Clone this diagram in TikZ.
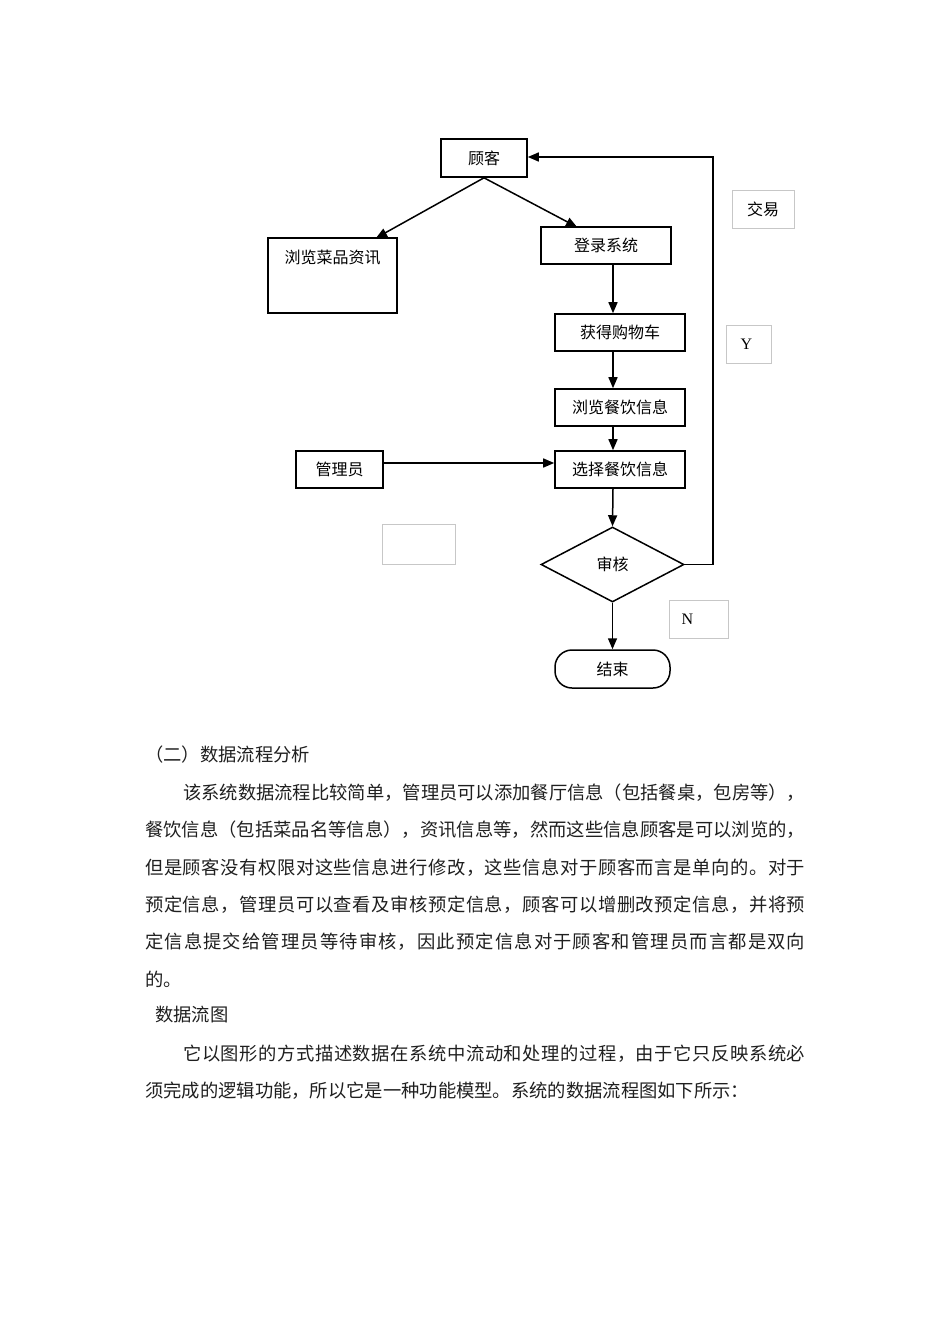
\documentclass[tikz,border=0pt]{standalone}
\usepackage{fontspec}
\setmainfont{Noto Sans CJK SC}
\newfontfamily\latinfont{Liberation Serif}
\usetikzlibrary{shapes.geometric,arrows.meta,calc}
\def\spreadtext#1{\spreadfirst#1\relax}
\def\spreadfirst#1{#1\spreadrest}
\def\spreadrest#1{\ifx#1\relax\else\hskip 0pt plus 1pt minus 1pt #1\expandafter\spreadrest\fi}
\tikzset{
  box/.style={draw=black, line width=1.6pt, rectangle, inner sep=0pt, font=\fontsize{16}{18}\selectfont},
  lbl/.style={inner sep=0pt, font=\fontsize{16}{18}\selectfont},
  ghost/.style={draw=black!22, line width=0.7pt, rectangle, inner sep=0pt, font=\fontsize{16}{18}\selectfont},
  arr/.style={line width=1.5pt, -{Triangle[length=11pt,width=9pt]}},
  para/.style={anchor=west, inner sep=0pt, font=\fontsize{18.3}{20}\selectfont, text=black!88}
}
\begin{document}
\begin{tikzpicture}[x=1pt,y=-1pt]
\useasboundingbox (0,0) rectangle (950,1344);
% main boxes
\node[box, minimum width=86pt, minimum height=38pt] (gk) at (484,158) {顾客};
\node[box, minimum width=129pt, minimum height=75pt] (llcp) at (332.5,275.5) {};
\node[lbl] (llcpt) at (332.5,258) {浏览菜品资讯};
\node[box, minimum width=130pt, minimum height=37pt] (dl) at (606,245.5) {登录系统};
\node[box, minimum width=130pt, minimum height=37pt] (hd) at (620,332.5) {获得购物车};
\node[box, minimum width=130pt, minimum height=37pt] (ll) at (620,407.5) {浏览餐饮信息};
\node[box, minimum width=130pt, minimum height=37pt] (xz) at (620,469.5) {选择餐饮信息};
\node[box, minimum width=87pt, minimum height=37pt] (gly) at (339.5,469.5) {管理员};
\node[draw=black, line width=1.5pt, diamond, aspect=1.9, minimum width=143pt, minimum height=75pt, inner sep=0pt, font=\fontsize{16}{18}\selectfont] (sh) at (612.5,564.5) {审核};
\node[draw=black, line width=1.5pt, rectangle, rounded corners=17pt, minimum width=115pt, minimum height=38pt, inner sep=0pt, font=\fontsize{16}{18}\selectfont] (js) at (612.5,669) {结束};
% ghost label boxes
\node[ghost, minimum width=62pt, minimum height=38pt] (jy) at (763,209) {交易};
\node[ghost, minimum width=45pt, minimum height=38pt, font=\latinfont\fontsize{16}{18}\selectfont] (yb) at (748.5,344) {\hspace*{-4pt}Y};
\node[ghost, minimum width=59pt, minimum height=38pt, font=\latinfont\fontsize{16}{18}\selectfont] (nb) at (698.5,619) {\hspace*{-22pt}N};
\node[ghost, minimum width=73pt, minimum height=40pt] (eb) at (418.5,544) {};
% coordinates
\coordinate (col) at (613,0);
\coordinate (a1) at (376,238);
\coordinate (a2) at (577,227);
\coordinate (lp1) at (713,564.5);
\coordinate (lp2) at (713,157);
% connectors
\draw[arr] (gk.south) -- (a1);
\draw[arr] (gk.south) -- (a2);
\draw[arr] (dl.south -| col) -- (hd.north -| col);
\draw[arr] (hd.south -| col) -- (ll.north -| col);
\draw[arr] (ll.south -| col) -- (xz.north -| col);
\draw[arr] (xz.south -| col) -- (sh.north);
\draw[arr] (sh.south) -- (js.north);
\draw[arr] ([yshift=6.5pt]gly.east) -- ([yshift=6.5pt]xz.west);
\draw[arr] (sh.east) -- (lp1) -- (lp2) -- (gk.east |- lp2);
% text
\node[para] (t0) at (145,755) {（二）数据流程分析};
\node[para] (t1) at (183,793) {\makebox[622pt][s]{\spreadtext{该系统数据流程比较简单，管理员可以添加餐厅信息（包括餐桌，包房等），}}};
\node[para] (t2) at (145,830) {\makebox[660pt][s]{\spreadtext{餐饮信息（包括菜品名等信息），资讯信息等，然而这些信息顾客是可以浏览的，}}};
\node[para] (t3) at (145,868) {\makebox[660pt][s]{\spreadtext{但是顾客没有权限对这些信息进行修改，这些信息对于顾客而言是单向的。对于}}};
\node[para] (t4) at (145,905) {\makebox[660pt][s]{\spreadtext{预定信息，管理员可以查看及审核预定信息，顾客可以增删改预定信息，并将预}}};
\node[para] (t5) at (145,942) {\makebox[660pt][s]{\spreadtext{定信息提交给管理员等待审核，因此预定信息对于顾客和管理员而言都是双向}}};
\node[para] (t6) at (145,979) {的。};
\node[para] (t7) at (155,1015) {数据流图};
\node[para] (t8) at (183,1054) {\makebox[622pt][s]{\spreadtext{它以图形的方式描述数据在系统中流动和处理的过程，由于它只反映系统必}}};
\node[para] (t9) at (145,1091) {须完成的逻辑功能，所以它是一种功能模型。系统的数据流程图如下所示：};
\end{tikzpicture}
\end{document}
